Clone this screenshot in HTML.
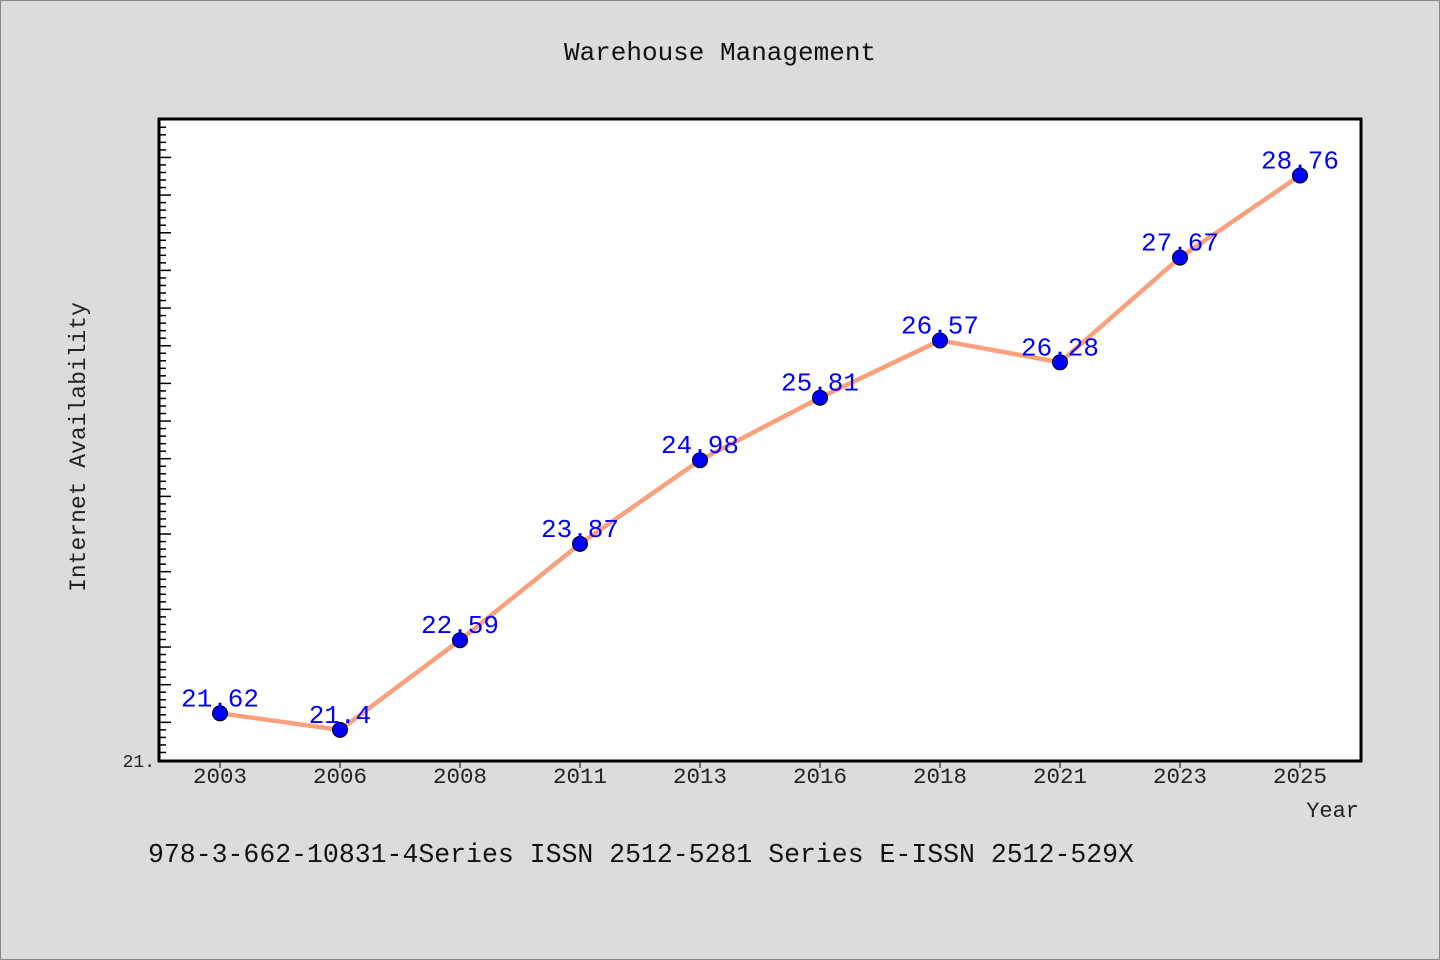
<!DOCTYPE html>
<html><head><meta charset="utf-8"><style>
body{margin:0;background:#dcdcdc}
svg{display:block;font-family:"Liberation Mono","WenQuanYi Zen Hei",monospace}
</style></head><body>
<svg width="1440" height="960">
<rect x="0.5" y="0.5" width="1439" height="959" fill="#dcdcdc" stroke="#888"/>
<text x="720" y="60" text-anchor="middle" font-size="26" fill="#111">Warehouse Management</text>
<rect x="159" y="119" width="1202" height="642" fill="#fff" stroke="#000" stroke-width="3"/>
<g id="yticks"></g>
<g id="xticks"></g>
<g id="series"></g>
<text x="85" y="447" text-anchor="middle" font-size="23" fill="#222" transform="rotate(-90 85 447)">Internet Availability</text>
<text x="1359" y="817" text-anchor="end" font-size="22" fill="#222">Year</text>
<text x="148" y="862" font-size="26.5" fill="#111">978-3-662-10831-4Series ISSN 2512-5281 Series E-ISSN 2512-529X</text>
</svg>
<script>
const categories=["2003","2006","2008","2011","2013","2016","2018","2021","2023","2025"];
const values=[21.62,21.4,22.59,23.87,24.98,25.81,26.57,26.28,27.67,28.76];
const labels=["21.62","21.4","22.59","23.87","24.98","25.81","26.57","26.28","27.67","28.76"];
const yMin=21,yMax=29.51;
const NS="http://www.w3.org/2000/svg";
const L=159,R=1361,T=119,B=760;
function y(v){return B-(v-yMin)/(yMax-yMin)*(B-T);}
function x(i){return 220+i*120;}
function mk(t,a,p){const e=document.createElementNS(NS,t);for(const k in a)e.setAttribute(k,a[k]);p.appendChild(e);return e;}
const yt=document.getElementById('yticks');
for(let k=1;k<=85;k++){const v=yMin+k*0.1;const yy=y(v);if(yy<T+3)break;
const ln=mk('line',{x1:L,x2:L+(k%5==0?12:7),y1:yy,y2:yy,stroke:'#000','stroke-width':1.5},yt);
}
const t0=mk('text',{x:155,y:767,'text-anchor':'end','font-size':18,fill:'#222'},yt);t0.textContent='21.';

const xt=document.getElementById('xticks');
categories.forEach((c,i)=>{const ln=mk('line',{x1:x(i),x2:x(i),y1:762,y2:768,stroke:'#000','stroke-width':1},xt);

const t=mk('text',{x:x(i),y:783,'text-anchor':'middle','font-size':22.5,fill:'#222'},xt);t.textContent=c;
});
const s=document.getElementById('series');
const pl=mk('polyline',{points:values.map((v,i)=>x(i)+','+y(v)).join(' '),fill:'none',stroke:'#f9a07c','stroke-width':4.5,'stroke-linejoin':'round'},s);

values.forEach((v,i)=>{const c=mk('circle',{cx:x(i),cy:y(v),r:7.5,fill:'#0000ff',stroke:'#000','stroke-width':1},s);

const t=mk('text',{x:x(i),y:y(v)-7,'text-anchor':'middle','font-size':26,fill:'#0000ff'},s);t.textContent=labels[i];
});
</script>
</body></html>
